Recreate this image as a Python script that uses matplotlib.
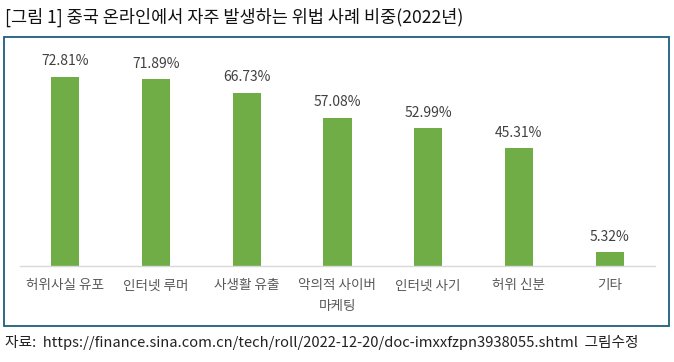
import matplotlib
matplotlib.use("Agg")
import matplotlib.pyplot as plt
from matplotlib.patches import Rectangle

plt.rcParams['font.family'] = ['Noto Sans CJK KR', 'DejaVu Sans']

categories = ['허위사실 유포', '인터넷 루머', '사생활 유출', '악의적 사이버\n마케팅',
              '인터넷 사기', '허위 신분', '기타']
values = [72.81, 71.89, 66.73, 57.08, 52.99, 45.31, 5.32]

W, H = 674, 362
fig = plt.figure(figsize=(W / 100, H / 100), dpi=100)

# outer box around the chart
fig.patches.append(Rectangle((4 / W, 1 - 326 / H), 665 / W, 289 / H,
                             transform=fig.transFigure, fill=False,
                             edgecolor='#1d5f7e', linewidth=1.3))

fig.text(5 / W, 1 - 17 / H, '[그림 1] 중국 온라인에서 자주 발생하는 위법 사례 비중(2022년)',
         fontsize=12.6, va='center', ha='left', color='#111111')
fig.text(5 / W, 1 - 342 / H,
         '자료:  https://finance.sina.com.cn/tech/roll/2022-12-20/doc-imxxfzpn3938055.shtml  그림수정',
         fontsize=10.6, va='center', ha='left', color='#222222')

ax = fig.add_axes([20 / W, 1 - 266 / H, 635 / W, 216 / H])
x = range(len(categories))
ax.bar(x, values, width=0.31, color='#70ad47')
for i, v in zip(x, values):
    ax.text(i, v + 3.2, f'{v:.2f}%', ha='center', va='bottom',
            fontsize=10, color='#404040')

ax.set_xlim(-0.5, len(categories) - 0.5)
ax.set_ylim(0, 216 / 2.6)
ax.set_xticks(list(x))
ax.set_xticklabels(categories, fontsize=9.8, color='#595959', linespacing=1.6)
ax.tick_params(axis='x', length=0, pad=9)
ax.set_yticks([])
for s in ['top', 'right', 'left']:
    ax.spines[s].set_visible(False)
ax.spines['bottom'].set_color('#d9d9d9')
ax.spines['bottom'].set_linewidth(1)

fig.savefig('out.png', dpi=100)
